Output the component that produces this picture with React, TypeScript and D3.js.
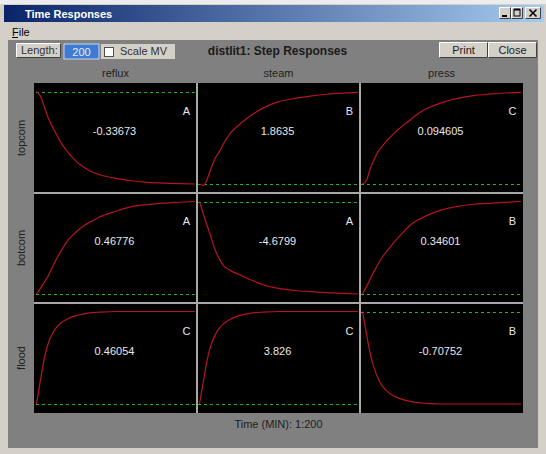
import React from "react";
import * as d3 from "d3";

// Step response grid: outputs (rows) vs. manipulated inputs (columns)
const inputs = ["reflux", "steam", "press"];
const outputs = ["topcom", "botcom", "flood"];

// Steady-state gains per output row, one per input column
const gainsTopcom = [-0.33673, 1.8635, 0.094605];
const gainsBotcom = [0.46776, -4.6799, 0.34601];
const gainsFlood = [0.46054, 3.826, -0.70752];

// Model tags shown in the corner of each cell
const tagsTopcom = ["A", "B", "C"];
const tagsBotcom = ["A", "A", "B"];
const tagsFlood = ["C", "C", "B"];

// Sample times (min) for the normalised responses below
const times = [0, 5, 10, 15, 20, 25, 30, 40, 50, 60, 70, 80, 100, 120, 140, 160, 180, 200];

// Normalised step responses (fraction of steady-state gain)
const topcomReflux = [0, 0.05, 0.17, 0.29, 0.38, 0.46, 0.54, 0.66, 0.755, 0.82, 0.87, 0.9, 0.94, 0.965, 0.982, 0.99, 0.996, 1.0];
const topcomSteam = [0, -0.015, 0.06, 0.18, 0.28, 0.35, 0.43, 0.56, 0.64, 0.71, 0.77, 0.82, 0.89, 0.925, 0.95, 0.97, 0.982, 0.99];
const topcomPress = [0, 0.04, 0.17, 0.27, 0.355, 0.41, 0.46, 0.55, 0.625, 0.69, 0.76, 0.81, 0.88, 0.925, 0.955, 0.972, 0.984, 0.99];
const botcomReflux = [0, 0.06, 0.13, 0.2, 0.29, 0.375, 0.45, 0.585, 0.67, 0.74, 0.79, 0.835, 0.895, 0.945, 0.967, 0.982, 0.992, 1.0];
const botcomSteam = [0, 0.14, 0.27, 0.4, 0.53, 0.62, 0.69, 0.75, 0.79, 0.83, 0.865, 0.9, 0.94, 0.962, 0.975, 0.985, 0.993, 1.0];
const botcomPress = [0, 0.08, 0.165, 0.25, 0.33, 0.4, 0.455, 0.56, 0.655, 0.743, 0.8, 0.845, 0.91, 0.948, 0.97, 0.98, 0.99, 1.0];
const floodReflux = [0, 0.26, 0.5, 0.66, 0.76, 0.825, 0.87, 0.925, 0.955, 0.975, 0.987, 0.993, 1.0, 1.0, 1.0, 1.0, 1.0, 1.0];
const floodSteam = [0, 0.25, 0.49, 0.65, 0.75, 0.82, 0.865, 0.92, 0.955, 0.975, 0.987, 0.993, 1.0, 1.0, 1.0, 1.0, 1.0, 1.0];
const floodPress = [0, 0.24, 0.465, 0.62, 0.73, 0.805, 0.855, 0.915, 0.95, 0.972, 0.986, 0.993, 1.0, 1.0, 1.0, 1.0, 1.0, 1.0];

const gains = [gainsTopcom, gainsBotcom, gainsFlood];
const tags = [tagsTopcom, tagsBotcom, tagsFlood];
const shapes = [
  [topcomReflux, topcomSteam, topcomPress],
  [botcomReflux, botcomSteam, botcomPress],
  [floodReflux, floodSteam, floodPress],
];

const W = 546;
const H = 454;
const gx0 = 34, gx1 = 523, gy0 = 83, gy1 = 413;
const UI = "'Liberation Sans', Arial, sans-serif";

function Button({ x, y, w, h, label }: { x: number; y: number; w: number; h: number; label: string }) {
  return (
    <g>
      <rect x={x} y={y} width={w} height={h} fill="#d4d0c8" />
      <path d={`M${x + 0.5},${y + h - 0.5}V${y + 0.5}H${x + w - 0.5}`} stroke="#ffffff" fill="none" />
      <path d={`M${x + 0.5},${y + h - 0.5}H${x + w - 0.5}V${y + 0.5}`} stroke="#404040" fill="none" />
      <text x={x + w / 2} y={y + h / 2 + 4} textAnchor="middle" fontSize={11} fontFamily={UI} fill="#202020">
        {label}
      </text>
    </g>
  );
}

export default function App() {
  const colX = d3.scaleLinear().domain([0, 3]).range([gx0, gx1]);
  const rowY = d3.scaleLinear().domain([0, 3]).range([gy0, gy1]);

  const cells: React.ReactNode[] = [];
  for (let r = 0; r < 3; r++) {
    for (let c = 0; c < 3; c++) {
      const cx0 = colX(c), cx1 = colX(c + 1);
      const ry0 = rowY(r), ry1 = rowY(r + 1);
      const g = gains[r][c];
      const x = d3.scaleLinear().domain([0, 200]).range([cx0 + 2.5, cx1 - 2]);
      const y = d3
        .scaleLinear()
        .domain([Math.min(0, g), Math.max(0, g)])
        .range([ry1 - 9, ry0 + 8.5]);
      const pts = times.map((t, i) => [t, g * shapes[r][c][i]] as [number, number]);
      const line = d3
        .line<[number, number]>()
        .x((d) => x(d[0]))
        .y((d) => y(d[1]))
        .curve(d3.curveMonotoneX);
      const cxm = (cx0 + cx1) / 2;
      const zy = Math.round(y(0)) + 0.5;
      cells.push(
        <g key={`${r}-${c}`}>
          <line
            x1={Math.round(x(0)) - 1}
            x2={Math.round(x(200)) + 1}
            y1={zy}
            y2={zy}
            stroke="#22b422"
            strokeWidth={1}
            strokeDasharray="3,3"
            shapeRendering="crispEdges"
          />
          <path d={line(pts) || ""} fill="none" stroke="#b81420" strokeWidth={1.2} />
          <text x={cxm - 1} y={ry0 + 52} textAnchor="middle" fontSize={11} fontFamily={UI} fill="#e8e8e8">
            {String(g)}
          </text>
          <text x={cx1 - 10.5} y={ry0 + 32} textAnchor="middle" fontSize={11} fontFamily={UI} fill="#e8e8e8">
            {tags[r][c]}
          </text>
        </g>
      );
    }
  }

  return (
    <svg width={W} height={H} style={{ position: "absolute", left: 0, top: 0 }}>
      <defs>
        <linearGradient id="titlebar" x1="0" x2="1" y1="0" y2="0">
          <stop offset="0" stopColor="#0a246a" />
          <stop offset="1" stopColor="#a6caf0" />
        </linearGradient>
      </defs>
      {/* window frame */}
      <rect x={0} y={0} width={W} height={H} fill="#d4d0c8" />
      <rect x={0} y={0} width={W} height={4} fill="#ececec" />
      {/* title bar */}
      <rect x={4} y={5} width={W - 6} height={17} fill="url(#titlebar)" />
      <text x={25} y={17.5} fontSize={11} fontWeight="bold" fontFamily={UI} fill="#ffffff">
        Time Responses
      </text>
      <Button x={499} y={7} w={12} h={12} label="" />
      <Button x={511} y={7} w={12} h={12} label="" />
      <Button x={525} y={7} w={16} h={12} label="" />
      <rect x={502} y={15} width={5} height={2} fill="#000" />
      <rect x={514} y={9.5} width={6} height={6.5} fill="none" stroke="#000" strokeWidth={1} />
      <line x1={514} y1={9.5} x2={520} y2={9.5} stroke="#000" strokeWidth={2} />
      <path d="M529.5,9.5L536.5,16.5M536.5,9.5L529.5,16.5" stroke="#000" strokeWidth={1.6} />
      {/* menu */}
      <text x={12} y={36} fontSize={11} fontFamily={UI} fill="#000">
        File
      </text>
      <line x1={12} x2={18} y1={37.5} y2={37.5} stroke="#000" strokeWidth={1} />
      {/* client area */}
      <rect x={8} y={40} width={530} height={408} fill="#808080" />
      {/* toolbar */}
      <Button x={16} y={43} w={45} h={15} label="" />
      <text x={21} y={54} fontSize={11} fontFamily={UI} fill="#303030">
        Length:
      </text>
      <rect x={64} y={44} width={35} height={15} fill="#3f7bd3" stroke="#c8d8f0" strokeWidth={1} />
      <text x={81.5} y={55.5} textAnchor="middle" fontSize={11} fontFamily={UI} fill="#e8eef8">
        200
      </text>
      <rect x={101} y={44} width={74} height={15} fill="#d4d0c8" />
      <rect x={104.5} y={47.5} width={9} height={9} fill="#ffffff" stroke="#505050" />
      <text x={120} y={55} fontSize={11} fontFamily={UI} fill="#303030">
        Scale MV
      </text>
      <text x={277.5} y={55} textAnchor="middle" fontSize={12} fontWeight="bold" fontFamily={UI} fill="#1a1a1a">
        distlit1: Step Responses
      </text>
      <Button x={439} y={42} w={49} h={16} label="Print" />
      <Button x={488} y={42} w={49} h={16} label="Close" />
      {/* headers */}
      {inputs.map((name, c) => (
        <text key={name} x={(colX(c) + colX(c + 1)) / 2} y={77} textAnchor="middle" fontSize={11} fontFamily={UI} fill="#202020">
          {name}
        </text>
      ))}
      {outputs.map((name, r) => {
        const cy = (rowY(r) + rowY(r + 1)) / 2;
        return (
          <text key={name} transform={`translate(25,${cy}) rotate(-90)`} textAnchor="middle" fontSize={11} fontFamily={UI} fill="#202020">
            {name}
          </text>
        );
      })}
      {/* plot grid */}
      <rect x={gx0} y={gy0} width={gx1 - gx0} height={gy1 - gy0} fill="#000000" />
      {cells}
      {[1, 2].map((i) => (
        <line key={`v${i}`} x1={colX(i)} x2={colX(i)} y1={gy0} y2={gy1} stroke="#a8a8a8" strokeWidth={2} />
      ))}
      {[1, 2].map((i) => (
        <line key={`h${i}`} x1={gx0} x2={gx1} y1={rowY(i)} y2={rowY(i)} stroke="#a8a8a8" strokeWidth={2} />
      ))}
      <text x={(gx0 + gx1) / 2} y={428} textAnchor="middle" fontSize={11} fontFamily={UI} fill="#202020">
        Time (MIN): 1:200
      </text>
    </svg>
  );
}
